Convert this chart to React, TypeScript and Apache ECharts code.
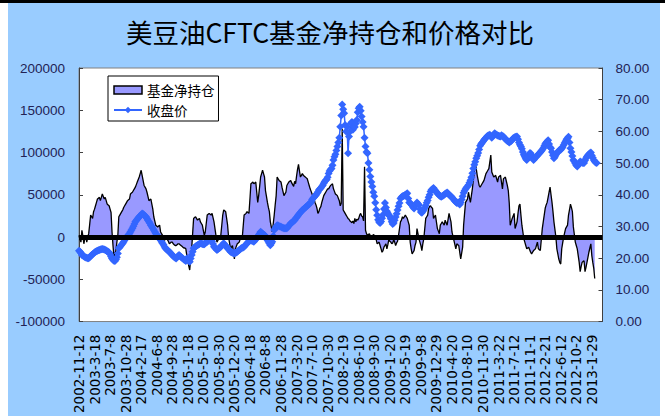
import React, { useEffect, useRef } from "react";
import * as echarts from "echarts";

const TITLE = "美豆油CFTC基金净持仓和价格对比";
const NET_NAME = "基金净持仓";
const PRICE_NAME = "收盘价";

// Weekly report dates (Tuesdays) starting here; a few weeks are absent in the source sheet.
const FIRST_WEEK = [2002, 11, 12];
const MISSING_WEEKS = ["2002-12-24", "2002-12-31", "2005-12-27", "2009-4-14", "2013-1-1"];
const WEEK_COUNT = 540;

// Fund net position, thousands of contracts (left axis)
const NET_K = [
  2, -3, -6, 8, 1, -8, -2, 2, -6, 0,
  4, 15, 26, 24, 22, 30, 33, 37, 41, 45,
  46, 47, 43, 47, 51, 48, 45, 47, 43, 39,
  38, 37, 33, 29, 6, -10, -24, -20, -16, -6,
  2, 24, 26, 28, 30, 32, 35, 37, 39, 41,
  43, 44, 45, 51, 52, 53, 55, 57, 59, 62,
  65, 68, 71, 75, 79, 73, 67, 61, 59, 57,
  53, 48, 43, 44, 45, 39, 33, 24, 19, 14,
  13, 12, 13, 14, 6, 4, 2, -1, -4, -2,
  0, -3, -5, -8, -7, -6, -6, -8, -9, -10,
  -10, -9, -8, -8, -9, -10, -11, -12, -13, -13,
  -14, -22, -28, -34, -39, -25, -14, 4, 22, 23,
  24, 22, 20, 21, 22, 18, 16, 14, 8, 2,
  6, 16, 26, 27, 28, 27, 26, 28, 23, 18,
  10, 2, -6, -4, -2, 0, 2, 14, 26, 32,
  31, 30, 22, 14, 0, -7, -14, -12, -10, -18,
  -26, -14, -11, -8, -7, -6, -2, 2, -2, 12,
  26, 27, 28, 30, 29, 28, 45, 63, 64, 65,
  63, 64, 65, 53, 41, 49, 60, 71, 75, 79,
  75, 71, 55, 48, 41, 35, 30, 18, 12, 6,
  16, 26, 38, 49, 71, 69, 67, 66, 65, 59,
  54, 49, 51, 53, 61, 63, 65, 66, 67, 64,
  62, 60, 66, 63, 72, 80, 86, 78, 71, 73,
  75, 73, 72, 71, 70, 69, 65, 61, 57, 54,
  51, 48, 45, 41, 38, 34, 28, 30, 34, 36,
  41, 45, 49, 51, 53, 55, 57, 57, 59, 61,
  62, 63, 57, 54, 51, 50, 49, 46, 43, 37,
  40, 128, 32, 30, 28, 26, 24, 22, 21, 19,
  18, 17, 19, 16, 22, 18, 21, 20, 22, 26,
  28, 25, 24, 19, 83, 8, 4, 2, 3, 4,
  1, 2, -2, 3, 2, -1, -3, -8, -7, -6,
  -10, -14, -18, -16, -12, -10, -8, -14, -9, -3,
  -5, -6, -8, -7, -3, -6, -10, -7, -5, 2,
  10, 18, 20, 24, 22, 24, 26, 24, 22, 18,
  14, -6, -14, -20, -18, -16, -10, -6, 10, 4,
  -2, -6, -10, -16, -8, -2, 10, 22, 24, 26,
  34, 36, 37, 35, 34, 22, 24, 26, 18, 10,
  7, 4, 14, 16, 18, 16, 14, 20, 17, 14,
  21, 28, 23, 18, 6, 1, -4, -9, -14, -8,
  -9, -10, -18, -26, -19, -12, 14, 28, 41, 43,
  45, 53, 47, 41, 49, 57, 67, 77, 89, 81,
  73, 67, 61, 59, 61, 63, 65, 67, 71, 75,
  77, 79, 81, 89, 97, 77, 74, 71, 72, 73,
  69, 65, 71, 72, 73, 65, 57, 69, 70, 71,
  66, 61, 55, 40, 14, 18, 22, 25, 28, 10,
  14, 18, 28, 37, 39, 26, 14, 6, -2, -6,
  -10, -14, -13, -12, -15, -18, -20, -18, -16, -15,
  -14, -10, -6, -14, -15, -16, -3, 10, 18, 26,
  34, 38, 41, 47, 53, 59, 50, 41, 30, 18,
  9, 0, -14, -20, -26, -30, -32, -14, -7, 0,
  5, 10, 12, 14, 26, 32, 39, 35, 30, 12,
  3, -6, -10, -14, -22, -30, -41, -35, -30, -29,
  -28, -41, -36, -30, -24, -18, -13, -8, -22, -30,
  -37, -49,
];

// Closing price (right axis)
const PRICE = [
  22.3, 22.0, 21.6, 21.0, 20.8, 20.6, 20.4, 20.2, 20.1, 20.0,
  20.0, 20.3, 20.7, 21.0, 21.2, 21.5, 21.8, 22.0, 22.2, 22.3,
  22.5, 22.6, 22.7, 22.8, 22.9, 22.8, 22.7, 22.6, 22.4, 22.2,
  22.0, 21.8, 21.2, 20.5, 19.9, 19.5, 19.2, 19.1, 19.6, 20.3,
  21.5, 23.1, 23.5, 23.9, 24.3, 24.7, 25.2, 25.7, 26.2, 26.6,
  27.0, 27.4, 27.8, 28.3, 28.9, 29.4, 30.1, 30.8, 31.5, 31.9,
  32.3, 32.7, 33.1, 33.4, 33.7, 34.1, 33.9, 33.6, 33.3, 33.1,
  32.5, 32.0, 31.5, 31.0, 30.4, 29.9, 29.4, 28.9, 28.3, 27.8,
  27.4, 26.9, 26.5, 26.2, 25.7, 25.2, 24.7, 24.2, 23.6, 23.1,
  22.8, 22.5, 22.3, 22.0, 21.7, 21.3, 21.0, 20.7, 20.4, 20.1,
  19.9, 20.3, 20.7, 21.0, 20.7, 20.4, 20.1, 19.9, 19.6, 19.4,
  19.1, 19.9, 19.5, 19.2, 18.9, 19.9, 21.0, 22.0, 23.1, 23.4,
  23.7, 23.9, 24.1, 24.3, 24.5, 24.7, 24.6, 24.5, 24.4, 24.4,
  24.7, 25.0, 25.2, 25.5, 25.8, 26.0, 26.2, 25.3, 24.5, 23.6,
  23.3, 23.0, 22.6, 22.8, 23.1, 23.3, 23.6, 24.0, 24.3, 24.7,
  24.3, 23.9, 23.5, 23.1, 22.8, 22.4, 22.0, 21.9, 21.7, 21.6,
  21.5, 21.7, 21.8, 22.0, 22.3, 22.6, 22.8, 23.1, 23.3, 23.4,
  23.6, 24.0, 24.3, 24.7, 25.0, 25.3, 25.5, 25.7, 25.5, 25.4,
  25.2, 25.6, 26.0, 26.4, 26.8, 27.3, 27.8, 28.3, 28.0, 27.7,
  27.5, 27.3, 26.8, 26.2, 25.7, 25.2, 24.6, 24.1, 24.6, 25.2,
  27.0, 28.9, 29.4, 29.9, 30.4, 30.3, 30.1, 30.0, 29.9, 29.7,
  29.6, 29.4, 29.4, 29.4, 29.4, 29.8, 30.2, 30.6, 31.0, 31.2,
  31.4, 31.7, 32.0, 32.5, 32.8, 33.2, 33.7, 34.1, 34.4, 34.8,
  35.2, 35.4, 35.7, 36.0, 36.2, 36.5, 36.8, 37.1, 37.3, 37.8,
  38.5, 38.9, 39.2, 39.6, 39.9, 40.4, 40.9, 41.5, 41.8, 42.1,
  42.6, 43.0, 43.6, 44.2, 44.6, 44.8, 45.5, 46.7, 47.5, 48.0,
  48.3, 49.3, 51.0, 52.0, 52.8, 54.0, 55.2, 56.5, 58.0, 61.5,
  65.0, 68.5, 67.0, 65.7, 62.0, 60.0, 61.5, 53.1, 58.4, 60.0,
  62.6, 63.0, 60.5, 61.5, 61.4, 62.5, 63.6, 66.0, 67.3, 67.8,
  66.5, 64.7, 63.0, 61.5, 58.0, 55.2, 53.5, 53.1, 50.0, 47.9,
  45.8, 44.0, 42.6, 40.8, 39.5, 37.5, 35.3, 33.5, 32.1, 31.4,
  31.1, 31.6, 32.6, 33.7, 35.5, 37.4, 36.0, 34.8, 34.2, 33.6,
  33.2, 32.4, 31.5, 30.8, 31.1, 32.0, 33.0, 34.0, 35.2, 36.4,
  37.4, 38.8, 39.2, 39.5, 39.6, 39.8, 40.0, 40.2, 40.5, 38.8,
  37.6, 37.4, 37.0, 36.6, 36.1, 35.7, 36.5, 37.0, 37.6, 37.2,
  36.8, 35.5, 34.6, 34.3, 34.8, 35.3, 35.9, 36.6, 37.5, 38.2,
  39.2, 40.0, 41.0, 41.6, 41.8, 42.1, 41.7, 41.3, 40.8, 40.5,
  40.2, 39.8, 39.5, 39.4, 39.6, 39.8, 40.0, 40.3, 40.5, 40.7,
  40.4, 40.0, 39.7, 39.5, 39.2, 38.8, 38.4, 38.0, 37.7, 37.4,
  37.6, 37.3, 36.9, 37.6, 38.5, 39.5, 40.6, 41.3, 41.8, 42.3,
  42.6, 43.1, 43.8, 44.6, 45.5, 46.8, 48.3, 49.5, 50.4, 51.5,
  52.3, 53.2, 54.3, 55.5, 56.0, 56.4, 56.8, 57.3, 57.7, 58.0,
  58.4, 58.6, 58.8, 58.9, 58.5, 58.0, 58.5, 59.0, 59.4, 59.1,
  58.9, 58.7, 58.6, 58.5, 58.4, 58.8, 58.5, 58.4, 58.0, 57.6,
  57.3, 57.0, 56.8, 56.5, 56.8, 57.0, 57.4, 57.8, 58.0, 58.2,
  58.3, 58.4, 57.5, 56.5, 55.8, 55.2, 54.5, 53.5, 52.6, 52.0,
  51.4, 51.0, 51.5, 52.3, 53.1, 53.1, 52.4, 51.6, 51.0, 51.4,
  51.8, 52.1, 52.4, 52.8, 53.1, 53.4, 53.8, 54.2, 54.7, 55.4,
  56.0, 56.5, 56.8, 57.2, 56.0, 55.0, 54.7, 53.5, 52.5, 51.5,
  52.0, 52.6, 53.1, 53.5, 53.9, 54.2, 54.2, 54.6, 55.1, 55.7,
  56.3, 56.9, 57.5, 57.8, 58.3, 56.5, 54.7, 53.5, 52.2, 51.0,
  50.5, 49.9, 49.3, 48.9, 49.5, 50.0, 50.5, 50.3, 50.1, 50.0,
  50.0, 50.8, 51.5, 52.1, 52.5, 52.8, 53.1, 53.3, 52.4, 51.7,
  51.0, 50.5, 50.2, 50.0,
];

const LEFT_AXIS = { min: -100000, max: 200000, interval: 50000 };
const RIGHT_AXIS = { min: 0, max: 80, interval: 10 };
const LABEL_EVERY = 16;

function buildWeeks(): string[] {
  const out: string[] = [];
  const t = new Date(Date.UTC(FIRST_WEEK[0], FIRST_WEEK[1] - 1, FIRST_WEEK[2]));
  while (out.length < WEEK_COUNT) {
    const s = `${t.getUTCFullYear()}-${t.getUTCMonth() + 1}-${t.getUTCDate()}`;
    if (!MISSING_WEEKS.includes(s)) out.push(s);
    t.setUTCDate(t.getUTCDate() + 7);
  }
  return out;
}

export default function App() {
  const ref = useRef<HTMLDivElement>(null);

  useEffect(() => {
    document.body.style.margin = "0";
    if (!ref.current) return;
    const chart = echarts.init(ref.current, undefined, { renderer: "svg" });
    const weeks = buildWeeks();
    const axisText = "#222255";
    const option: any = {
      animation: false,
      backgroundColor: "#99CCFF",
      textStyle: { fontFamily: "'Liberation Sans', Arial, sans-serif" },
      graphic: [
        {
          type: "text",
          x: 322,
          y: 28,
          style: {
            text: TITLE,
            font: "26.5px 'Noto Sans CJK SC'",
            fill: "#000",
            textAlign: "center",
            textVerticalAlign: "middle",
          },
        },
      ],
      legend: {
        orient: "vertical",
        left: 100,
        top: 73,
        selectedMode: false,
        backgroundColor: "#fff",
        borderColor: "#000",
        borderWidth: 1,
        borderRadius: 0,
        padding: [7, 4, 4, 5],
        itemGap: 6,
        itemWidth: 28,
        itemHeight: 8,
        textStyle: { fontSize: 13.5, color: "#000", fontFamily: "'Noto Sans CJK SC'", lineHeight: 14 },
        data: [
          { name: NET_NAME, icon: "rect", itemStyle: { color: "#9999FF", borderColor: "#000", borderWidth: 1.5 } },
          { name: PRICE_NAME },
        ],
      },
      grid: {
        left: 71,
        right: 57.5,
        top: 65,
        bottom: 94,
        show: true,
        backgroundColor: "#fff",
        borderColor: "#808080",
        borderWidth: 1,
      },
      xAxis: {
        type: "category",
        data: weeks,
        boundaryGap: false,
        axisLine: { show: false },
        axisTick: { show: false },
        splitLine: { show: false },
        axisLabel: {
          interval: LABEL_EVERY - 1,
          rotate: 90,
          fontSize: 13.5,
          fontFamily: "'DejaVu Sans'",
          color: "#000",
          margin: 13,
        },
      },
      yAxis: [
        {
          type: "value",
          min: LEFT_AXIS.min,
          max: LEFT_AXIS.max,
          interval: LEFT_AXIS.interval,
          axisLine: { show: true, lineStyle: { color: "#404040", width: 1 } },
          axisTick: { show: true, inside: true, length: 4, lineStyle: { color: "#404040" } },
          splitLine: { show: false },
          axisLabel: { color: axisText, fontSize: 13.5, margin: 14, formatter: (v: number) => String(v) },
        },
        {
          type: "value",
          position: "right",
          min: RIGHT_AXIS.min,
          max: RIGHT_AXIS.max,
          interval: RIGHT_AXIS.interval,
          axisLine: { show: true, lineStyle: { color: "#404040", width: 1 } },
          axisTick: { show: true, inside: true, length: 4, lineStyle: { color: "#404040" } },
          splitLine: { show: false },
          axisLabel: { color: axisText, fontSize: 13.5, margin: 13, formatter: (v: number) => v.toFixed(2) },
        },
      ],
      series: [
        {
          name: NET_NAME,
          type: "line",
          yAxisIndex: 0,
          data: NET_K.map((v) => v * 1000),
          symbol: "none",
          itemStyle: { color: "#9999FF" },
          lineStyle: { color: "#000", width: 1.3 },
          areaStyle: { color: "#9999FF", opacity: 1 },
          z: 2,
          markLine: {
            silent: true,
            symbol: ["none", "none"],
            label: { show: false },
            lineStyle: { color: "#000", width: 5, type: "solid" },
            emphasis: { disabled: true },
            data: [{ yAxis: 0 }],
          },
        },
        {
          name: PRICE_NAME,
          type: "line",
          yAxisIndex: 1,
          data: PRICE,
          symbol: "diamond",
          symbolSize: 8,
          showSymbol: true,
          showAllSymbol: true,
          itemStyle: { color: "#3366FF" },
          lineStyle: { color: "#3366FF", width: 1.5 },
          z: 3,
        },
      ],
    };
    chart.setOption(option);
    return () => chart.dispose();
  }, []);

  return (
    <div style={{ position: "fixed", left: 0, top: 0, width: 665, height: 416, background: "#fff", overflow: "hidden" }}>
      <div style={{ position: "absolute", left: 0, top: 0, width: 665, height: 3, background: "#000" }} />
      <div ref={ref} style={{ position: "absolute", left: 8, top: 3, width: 652, height: 413 }} />
    </div>
  );
}
